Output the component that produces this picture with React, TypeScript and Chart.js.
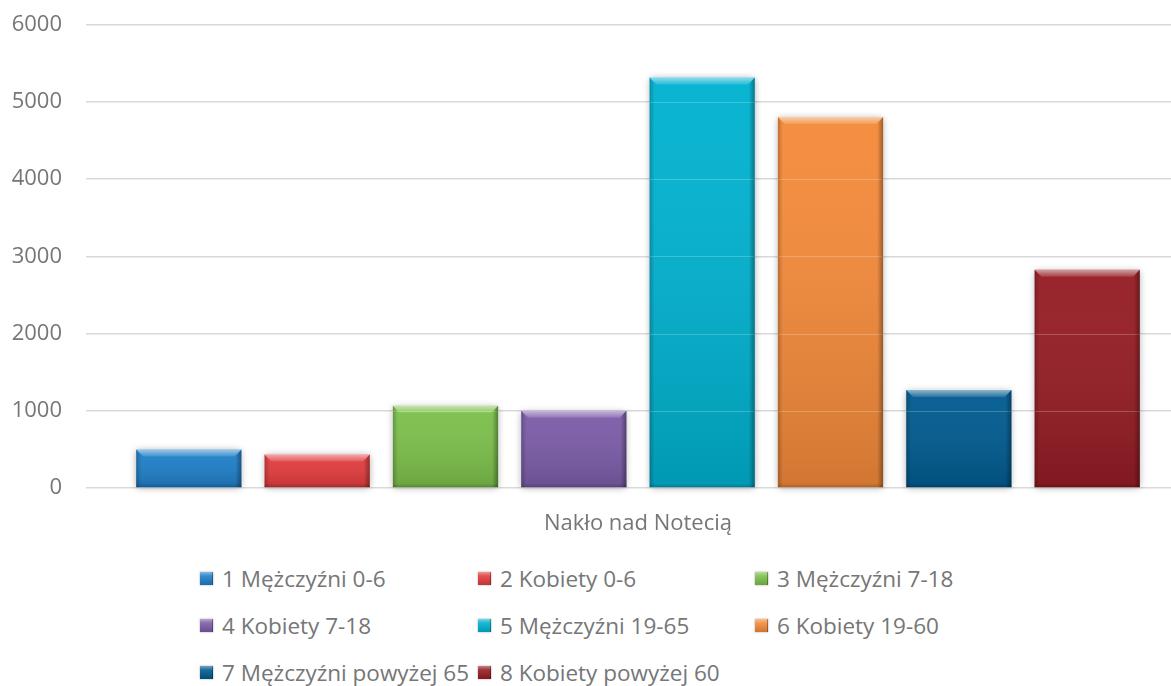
import React, { useEffect, useRef } from "react";
import { Chart, registerables } from "chart.js";

Chart.register(...registerables);

const categories = ["Nakło nad Notecią"];
const seriesLabels = [
  "1 Mężczyźni 0-6",
  "2 Kobiety 0-6",
  "3 Mężczyźni 7-18",
  "4 Kobiety 7-18",
  "5 Mężczyźni 19-65",
  "6 Kobiety 19-60",
  "7 Mężczyźni powyżej 65",
  "8 Kobiety powyżej 60",
];
const seriesValues = [500, 435, 1066, 1000, 5315, 4802, 1270, 2824];
const seriesColors = [
  "#1f7fc8",
  "#e23c3e",
  "#7cc04b",
  "#7b5ca8",
  "#00b2d0",
  "#f48a3a",
  "#005b90",
  "#951c24",
];
const yTicks = [0, 1000, 2000, 3000, 4000, 5000, 6000];

const FONT = "'Open Sans', 'DejaVu Sans', sans-serif";
const TEXT = "#767676";

const shadowPlugin = {
  id: "barShadow",
  beforeDatasetsDraw(chart: any) {
    const ctx = chart.ctx;
    chart.data.datasets.forEach((_d: any, i: number) => {
      const meta = chart.getDatasetMeta(i);
      meta.data.forEach((el: any) => {
        const w = el.width;
        const l = el.x - w / 2;
        ctx.save();
        ctx.shadowColor = "rgba(0,0,0,0.35)";
        ctx.shadowBlur = 7;
        ctx.shadowOffsetX = 0;
        ctx.shadowOffsetY = 1;
        ctx.fillStyle = "#ffffff";
        ctx.fillRect(l, el.y, w, el.base - el.y);
        ctx.restore();
      });
    });
  },
};

const bevelPlugin = {
  id: "bevel",
  afterDatasetsDraw(chart: any) {
    const ctx = chart.ctx;
    const yScale = chart.scales.y;
    chart.data.datasets.forEach((_d: any, i: number) => {
      const meta = chart.getDatasetMeta(i);
      meta.data.forEach((el: any) => {
        const w = el.width;
        const l = el.x - w / 2;
        const r = el.x + w / 2;
        const t = el.y;
        const b = el.base;
        const h = b - t;
        const bv = Math.min(7, h / 3);
        ctx.save();
        const g = ctx.createLinearGradient(0, t, 0, b);
        g.addColorStop(0, "rgba(255,255,255,0.04)");
        g.addColorStop(1, "rgba(0,0,0,0.14)");
        ctx.fillStyle = g;
        ctx.fillRect(l, t, w, h);
        ctx.strokeStyle = "rgba(255,255,255,0.22)";
        ctx.lineWidth = 1;
        yTicks.forEach((v) => {
          const yy = Math.round(yScale.getPixelForValue(v)) + 0.5;
          if (yy > t + 1 && yy < b - 1) {
            ctx.beginPath();
            ctx.moveTo(l, yy);
            ctx.lineTo(r, yy);
            ctx.stroke();
          }
        });
        const gt = ctx.createLinearGradient(0, t, 0, t + bv);
        gt.addColorStop(0, "rgba(255,255,255,0.55)");
        gt.addColorStop(1, "rgba(255,255,255,0.12)");
        ctx.fillStyle = gt;
        ctx.beginPath();
        ctx.moveTo(l, t);
        ctx.lineTo(r, t);
        ctx.lineTo(r - bv, t + bv);
        ctx.lineTo(l + bv, t + bv);
        ctx.closePath();
        ctx.fill();
        const gl = ctx.createLinearGradient(l, 0, l + 5, 0);
        gl.addColorStop(0, "rgba(0,0,0,0.22)");
        gl.addColorStop(1, "rgba(0,0,0,0)");
        ctx.fillStyle = gl;
        ctx.beginPath();
        ctx.moveTo(l, t);
        ctx.lineTo(l + 5, t + bv);
        ctx.lineTo(l + 5, b);
        ctx.lineTo(l, b);
        ctx.closePath();
        ctx.fill();
        const gr = ctx.createLinearGradient(r - 6, 0, r, 0);
        gr.addColorStop(0, "rgba(0,0,0,0)");
        gr.addColorStop(1, "rgba(0,0,0,0.35)");
        ctx.fillStyle = gr;
        ctx.beginPath();
        ctx.moveTo(r, t);
        ctx.lineTo(r, b);
        ctx.lineTo(r - 6, b);
        ctx.lineTo(r - 6, t + bv);
        ctx.closePath();
        ctx.fill();
        const gb = ctx.createLinearGradient(0, b - 4, 0, b);
        gb.addColorStop(0, "rgba(0,0,0,0)");
        gb.addColorStop(1, "rgba(0,0,0,0.18)");
        ctx.fillStyle = gb;
        ctx.fillRect(l, b - 4, w, 4);
        ctx.restore();
      });
    });
  },
};

function LegendBox({ color }: { color: string }) {
  return (
    <span
      style={{
        display: "inline-block",
        width: 13,
        height: 13,
        marginRight: 9,
        background: `linear-gradient(180deg, rgba(255,255,255,0.45) 0%, rgba(255,255,255,0.1) 30%, rgba(0,0,0,0.15) 100%), ${color}`,
        boxShadow: "inset -1px 0 0 rgba(0,0,0,0.3), 0 0 2px rgba(0,0,0,0.35)",
        verticalAlign: "middle",
        position: "relative",
        top: -2,
      }}
    />
  );
}

export default function App() {
  const ref = useRef<HTMLCanvasElement | null>(null);

  useEffect(() => {
    if (!ref.current) return;
    const chart = new Chart(ref.current, {
      type: "bar",
      data: {
        labels: categories,
        datasets: seriesLabels.map((label, i) => ({
          label,
          data: [seriesValues[i]],
          backgroundColor: seriesColors[i],
          borderWidth: 0,
          categoryPercentage: 0.93,
          barPercentage: 0.82,
        })),
      },
      options: {
        responsive: false,
        animation: false,
        layout: { padding: { top: 24.5, right: 0, left: 0, bottom: 0 } },
        plugins: {
          legend: { display: false },
          tooltip: { enabled: false },
        },
        scales: {
          x: {
            grid: { display: false },
            border: { display: false },
            ticks: {
              color: TEXT,
              padding: 15,
              font: { family: FONT, size: 22 },
            },
            afterFit: (s: any) => {
              s.height = 545 - 488;
            },
          },
          y: {
            min: 0,
            max: 6000,
            afterBuildTicks: (s: any) => {
              s.ticks = yTicks.map((v) => ({ value: v }));
            },
            grid: {
              color: "#d9d9d9",
              lineWidth: 1.5,
              drawTicks: false,
            },
            border: { display: false },
            ticks: {
              color: TEXT,
              padding: 24,
              font: { family: FONT, size: 22 },
              callback: (v: any) => String(v),
            },
            afterFit: (s: any) => {
              s.width = 86;
              s.paddingTop = 0;
              s.paddingBottom = 0;
            },
          },
        },
      },
      plugins: [shadowPlugin, bevelPlugin],
    });
    return () => chart.destroy();
  }, []);

  const colX = [200, 478, 755];
  const rowY = [579, 626, 673];

  return (
    <div
      style={{
        position: "absolute",
        left: 0,
        top: 0,
        width: 1171,
        height: 686,
        overflow: "hidden",
        background: "#ffffff",
      }}
    >
      <canvas ref={ref} width={1190} height={545} style={{ display: "block" }} />
      {seriesLabels.map((label, i) => {
        const row = Math.floor(i / 3);
        const col = i % 3;
        return (
          <div
            key={label}
            style={{
              position: "absolute",
              left: colX[col],
              top: rowY[row] - 16,
              height: 32,
              lineHeight: "32px",
              whiteSpace: "nowrap",
              fontFamily: FONT,
              fontSize: 22.5,
              color: TEXT,
            }}
          >
            <LegendBox color={seriesColors[i]} />
            {label}
          </div>
        );
      })}
    </div>
  );
}
